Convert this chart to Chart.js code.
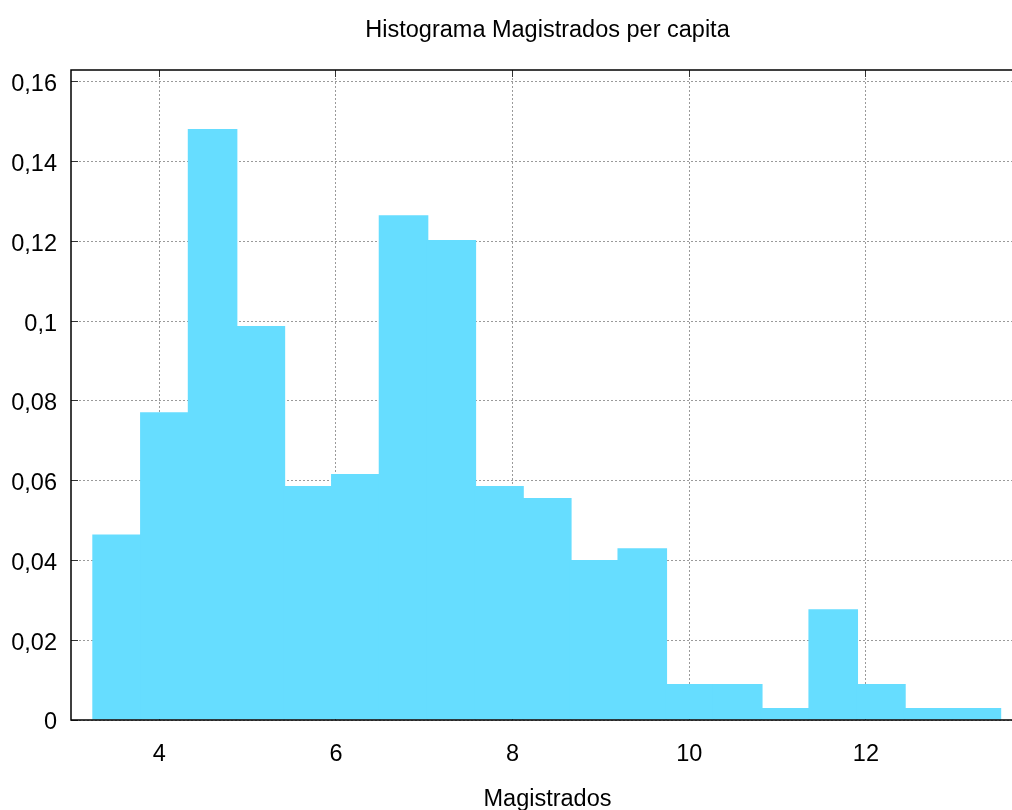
<!DOCTYPE html>
<html>
<head>
<meta charset="utf-8">
<script src="https://cdn.jsdelivr.net/npm/chart.js@4"></script>
<style>
  html, body { margin: 0; padding: 0; background: #fff; overflow: hidden; }
  #wrap { width: 1012px; height: 810px; overflow: hidden; }
</style>
</head>
<body>
<div id="wrap"><canvas id="myChart" width="1024" height="810"></canvas></div>
<script>
// bin centres (Magistrados) and relative frequency
var binCenters = [3.522, 4.063, 4.603, 5.144, 5.684, 6.225, 6.765, 7.306, 7.846, 8.387,
                  8.927, 9.468, 10.008, 10.549, 11.089, 11.630, 12.170, 12.711, 13.251];
var frequencies = [0.0465, 0.0772, 0.1482, 0.0988, 0.0587, 0.0617, 0.1266, 0.1204, 0.0587, 0.0557,
                   0.0401, 0.0431, 0.0090, 0.0090, 0.0030, 0.0278, 0.0090, 0.0030, 0.0030];
var xTicks = [4, 6, 8, 10, 12];
var yTicks = [0, 0.02, 0.04, 0.06, 0.08, 0.1, 0.12, 0.14, 0.16];

var points = binCenters.map(function (c, i) { return { x: c, y: frequencies[i] }; });

var font = { family: "'Liberation Sans', Arial, sans-serif", size: 23.5 };
var gridStyle = {
    color: '#9a9a9a',
    lineWidth: 1,
    offset: false,
    tickColor: '#333',
    tickLength: -7,
    tickBorderDash: []
};
var dottedBorder = { display: false, dash: [2, 2] };

// frame lines (left, bottom, top) drawn on the chart area edges
var framePlugin = {
    id: 'frame',
    afterDatasetsDraw: function (chart) {
        var a = chart.chartArea, c = chart.ctx;
        c.save();
        c.setLineDash([]);
        c.strokeStyle = '#000';
        c.lineWidth = 1.5;
        c.beginPath();
        c.moveTo(a.right, a.top);
        c.lineTo(a.left, a.top);
        c.lineTo(a.left, a.bottom);
        c.lineTo(a.right, a.bottom);
        c.stroke();
        c.restore();
    }
};

var ctx = document.getElementById('myChart').getContext('2d');
var myChart = new Chart(ctx, {
    type: 'bar',
    data: {
        datasets: [{
            label: 'Magistrados',
            data: points,
            backgroundColor: '#66ddff',
            borderWidth: 0,
            barPercentage: 1.04,
            categoryPercentage: 1,
            grouped: false
        }]
    },
    options: {
        responsive: false,
        animation: false,
        layout: { padding: 0 },
        plugins: {
            legend: { display: false },
            tooltip: { enabled: false },
            title: { display: false }
        },
        scales: {
            x: {
                type: 'linear',
                position: 'bottom',
                offset: false,
                min: 3,
                max: 13.79,
                afterBuildTicks: function (scale) {
                    scale.ticks = xTicks.map(function (v) { return { value: v }; });
                },
                ticks: { font: font, color: '#000', padding: 27 },
                grid: gridStyle,
                border: dottedBorder,
                title: {
                    display: true,
                    text: 'Magistrados',
                    font: font,
                    color: '#000',
                    padding: { top: 0, bottom: -4 }
                },
                afterFit: function (scale) { scale.height = 90; }
            },
            xTop: {
                type: 'linear',
                position: 'top',
                offset: false,
                min: 3,
                max: 13.79,
                afterBuildTicks: function (scale) {
                    scale.ticks = xTicks.map(function (v) { return { value: v }; });
                },
                ticks: { display: false },
                grid: { offset: false, drawOnChartArea: false, drawTicks: true, tickLength: -7, tickColor: '#333' },
                border: { display: false },
                title: {
                    display: true,
                    text: 'Histograma Magistrados per capita',
                    font: font,
                    color: '#000',
                    padding: { top: 16, bottom: 0 }
                },
                afterFit: function (scale) { scale.height = 70; }
            },
            y: {
                type: 'linear',
                min: 0,
                max: 0.163,
                afterBuildTicks: function (scale) {
                    scale.ticks = yTicks.map(function (v) { return { value: v }; });
                },
                ticks: {
                    font: font,
                    color: '#000',
                    padding: 21,
                    labelOffset: 3,
                    callback: function (v) {
                        return (Math.round(v * 100) / 100).toString().replace('.', ',');
                    }
                },
                grid: gridStyle,
                border: dottedBorder,
                afterFit: function (scale) { scale.width = 71; }
            }
        }
    },
    plugins: [framePlugin]
});
</script>
</body>
</html>
